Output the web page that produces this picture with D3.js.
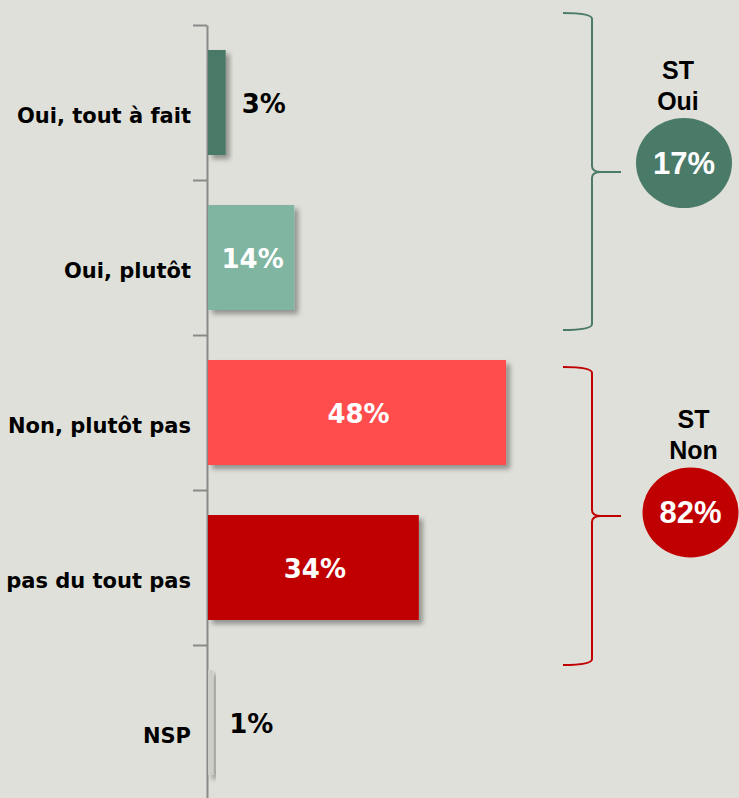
<!DOCTYPE html>
<html>
<head>
<meta charset="utf-8">
<script src="https://cdn.jsdelivr.net/npm/d3@7"></script>
<style>
  html, body { margin: 0; padding: 0; background: #e0e0da; }
  svg { display: block; }
  .cat { font-family: "DejaVu Sans", Verdana, sans-serif; font-weight: bold; font-size: 21px; fill: #000; }
  .val { font-family: "DejaVu Sans", Verdana, sans-serif; font-weight: bold; font-size: 26px; }
  .st { font-family: "Liberation Sans", Arial, sans-serif; font-weight: bold; font-size: 25px; fill: #000; }
  .tot { font-family: "Liberation Sans", Arial, sans-serif; font-weight: bold; font-size: 31px; fill: #fff; }
</style>
</head>
<body>
<svg id="chart"></svg>
<script>
// data
const categories = ['Oui, tout à fait', 'Oui, plutôt', 'Non, plutôt pas', 'pas du tout pas', 'NSP'];
const values = [3, 14, 48, 34, 1];
const groupNames = ['Oui', 'Non'];
const groupTotals = [17, 82];
const groupMembers = [[0, 1], [2, 3]];

// styles
const barColors = ['#4a7a68', '#80b5a1', '#ff4d4d', '#c00000', '#cfcfca'];
const groupColors = ['#4a7a68', '#c00000'];

const width = 739, height = 798;

const svg = d3.select('#chart')
    .attr('width', width)
    .attr('height', height);

svg.append('rect')
    .attr('width', width).attr('height', height)
    .attr('fill', '#e0e0da');

let defs = svg.append('defs');
defs.append('filter')
    .attr('id', 'shadow')
    .attr('x', '-20%').attr('y', '-20%')
    .attr('width', '160%').attr('height', '160%')
  .append('feDropShadow')
    .attr('dx', 4).attr('dy', 4)
    .attr('stdDeviation', 2.5)
    .attr('flood-color', '#000')
    .attr('flood-opacity', 0.35);

const yTop = 25, yBottom = 800, x0 = 207;

const yScale = d3.scaleBand()
    .domain(categories)
    .range([yTop, yBottom])
    .paddingInner(0.3226)
    .paddingOuter(0.1613);

const edgeScale = d3.scaleLinear()
    .domain([0, categories.length])
    .range([yTop, yBottom]);

const xScale = d3.scaleLinear()
    .domain([0, 50])
    .range([x0, x0 + 311.5]);

// axis with ticks between categories
let yAxis = d3.axisLeft(edgeScale)
    .tickValues(d3.range(categories.length + 1))
    .tickSize(14)
    .tickSizeOuter(0)
    .tickFormat('');

let axisG = svg.append('g')
    .attr('transform', 'translate(' + x0 + ',0)')
    .call(yAxis);
axisG.selectAll('path, line')
    .attr('stroke', '#8a8a8a')
    .attr('stroke-width', 2);

// bars
let bars = svg.append('g').selectAll('rect').data(values);
bars.enter().append('rect')
    .attr('x', x0 + 1)
    .attr('y', (d, i) => yScale(categories[i]))
    .attr('width', d => xScale(d) - x0 - 1)
    .attr('height', yScale.bandwidth())
    .attr('fill', (d, i) => barColors[i])
    .attr('filter', 'url(#shadow)');

// category labels
svg.append('g').selectAll('text').data(categories)
    .enter().append('text')
    .classed('cat', true)
    .attr('text-anchor', 'end')
    .attr('x', 191)
    .attr('y', d => yScale(d) + yScale.bandwidth() / 2 + 20)
    .text(d => d);

// value labels
svg.append('g').selectAll('text').data(values)
    .enter().append('text')
    .classed('val', true)
    .attr('text-anchor', d => d >= 10 ? 'middle' : 'start')
    .attr('x', d => d >= 10 ? (x0 + xScale(d)) / 2 + 2 : xScale(d) + 16)
    .attr('y', (d, i) => yScale(categories[i]) + yScale.bandwidth() / 2 + 10)
    .attr('fill', d => d >= 10 ? '#fff' : '#000')
    .text(d => d + '%');

// braces + totals
const braceX0 = 563, spineX = 592, tipX = 621;
const braceSpan = [[-0.077, 1.968], [2.206, 4.129]];   // in category-edge units
const circleDx = [63, 69.5], circleDy = [-9, -3.5];

groupMembers.forEach((m, g) => {
    let top = edgeScale(braceSpan[g][0]);
    let bot = edgeScale(braceSpan[g][1]);
    let tip = (top + bot) / 2 + (g == 0 ? 0.5 : 0);
    let r = 6;
    let p = 'M' + braceX0 + ',' + top +
        ' Q' + spineX + ',' + top + ' ' + spineX + ',' + (top + r) +
        ' L' + spineX + ',' + (tip - r) +
        ' Q' + spineX + ',' + tip + ' ' + (spineX + 9) + ',' + tip +
        ' L' + tipX + ',' + tip +
        ' M' + (spineX + 9) + ',' + tip +
        ' Q' + spineX + ',' + tip + ' ' + spineX + ',' + (tip + r) +
        ' L' + spineX + ',' + (bot - r) +
        ' Q' + spineX + ',' + bot + ' ' + braceX0 + ',' + bot;
    svg.append('path')
        .attr('d', p)
        .attr('fill', 'none')
        .attr('stroke', groupColors[g])
        .attr('stroke-width', 2);

    let cx = tipX + circleDx[g], cy = tip + circleDy[g];
    let rx = 48, ry = 45;
    svg.append('ellipse')
        .attr('cx', cx).attr('cy', cy)
        .attr('rx', rx).attr('ry', ry)
        .attr('fill', groupColors[g]);
    svg.append('text').classed('tot', true)
        .attr('text-anchor', 'middle')
        .attr('x', cx).attr('y', cy + 11)
        .text(groupTotals[g] + '%');
    let tx = cx + (g == 0 ? -6 : 3);
    svg.append('text').classed('st', true)
        .attr('text-anchor', 'middle')
        .attr('x', tx).attr('y', cy - ry - 39)
        .text('ST');
    svg.append('text').classed('st', true)
        .attr('text-anchor', 'middle')
        .attr('x', tx).attr('y', cy - ry - 8)
        .text(groupNames[g]);
});
</script>
</body>
</html>
